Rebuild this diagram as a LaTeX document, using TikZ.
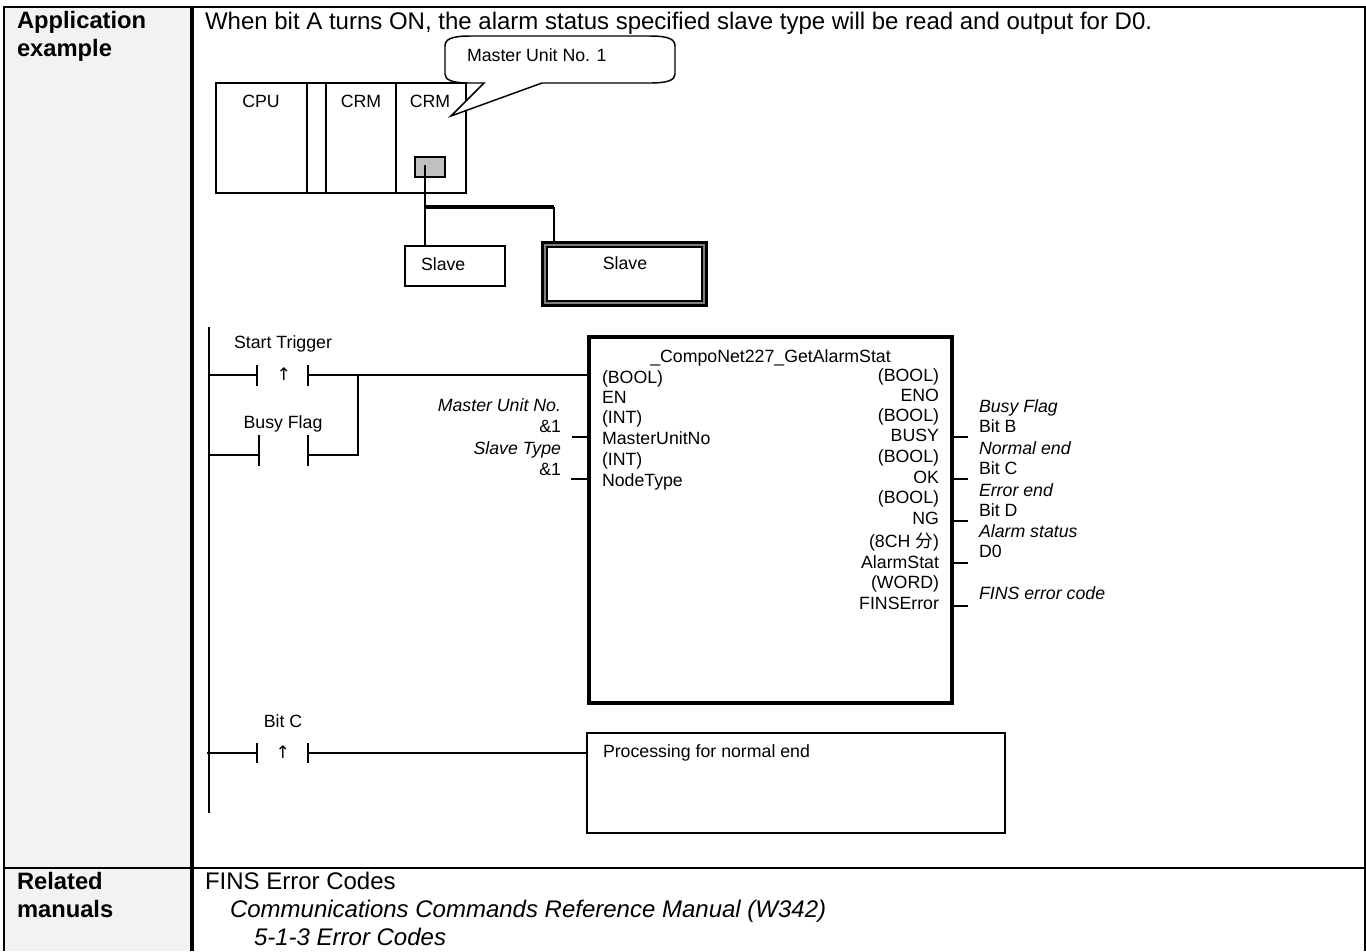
\documentclass[tikz,border=0pt]{standalone}
\usepackage{fontspec}
\setmainfont{Liberation Sans}
\newfontfamily\cjkfont{Noto Sans CJK SC}
\definecolor{headbg}{HTML}{F2F2F2}
\definecolor{portgray}{HTML}{C0C0C0}
\tikzset{
  txt/.style={inner sep=0pt,outer sep=0pt,text height=10.4pt,text depth=1.7pt,font=\fontsize{13.3}{13.3}\selectfont},
  big/.style={inner sep=0pt,outer sep=0pt,anchor=west,text height=13.8pt,text depth=2.6pt,font=\fontsize{18}{18}\selectfont},
  bigb/.style={big,font=\fontsize{17.8}{17.8}\selectfont\bfseries},
  bigi/.style={big,font=\fontsize{18}{18}\selectfont\itshape},
  ital/.style={txt,font=\fontsize{13.3}{13.3}\selectfont\itshape},
  upmark/.style={inner sep=0pt,font=\fontsize{13}{13}\selectfont\fontspec{DejaVu Sans}},
  wire/.style={line width=1.1pt},
  thinbox/.style={line width=1.1pt},
  cable/.style={line width=2pt},
}
\begin{document}
\begin{tikzpicture}[x=0.75pt,y=-0.75pt]
\useasboundingbox (0,0) rectangle (1366,951);
\fill[white] (0,0) rectangle (1366,951);
% table
\fill[headbg] (4,8) rectangle (192,951);
\draw[line width=2.2pt] (4,951) -- (4,7) -- (1365,7) -- (1365,951);
\draw[line width=2.5pt] (192,7) -- (192,951);
\draw[line width=2.2pt] (4,868) -- (1365,868);
% headings
\node[bigb] (h1) at (17,21) {Application};
\node[bigb] (h2) at (17,49) {example};
\node[bigb] (h3) at (17,882) {Related};
\node[bigb] (h4) at (17,910) {manuals};
\node[big] (intro) at (205,22) {When bit A turns ON, the alarm status specified slave type will be read and output for D0.};
\node[big] (r1) at (205,882) {FINS Error Codes};
\node[bigi] (r2) at (230,910) {Communications Commands Reference Manual (W342)};
\node[bigi] (r3) at (254,938) {5-1-3 Error Codes};
% PLC rack
\draw[thinbox] (216,83) rectangle (466,193);
\draw[thinbox] (307,83) -- (307,193);
\draw[thinbox] (326,83) -- (326,193);
\draw[thinbox] (396,83) -- (396,193);
\node[txt] (cpu) at (261,102) {CPU};
\node[txt] (crm1) at (361,102) {CRM};
\node[txt] (crm2) at (430,102) {CRM};
% callout
\draw[thinbox,fill=white] (484,83) -- (451,116) -- (542,83) -- (650,83)
  .. controls (668,83) and (675,80) .. (675,74) -- (675,46)
  .. controls (675,39) and (668,36) .. (650,36) -- (470,36)
  .. controls (452,36) and (445,39) .. (445,46) -- (445,74)
  .. controls (445,80) and (452,83) .. (470,83) -- cycle;
\node[txt,anchor=west] (cal) at (467,56) {Master Unit No. 1};
% port and cables
\node[draw,fill=portgray,line width=1.3pt,minimum width=22.5pt,minimum height=15pt,inner sep=0pt] (port) at (430,167) {};
\coordinate (portpin) at (425,165);
\node[draw,thinbox,minimum width=75pt,minimum height=30pt,inner sep=0pt] (s1box) at (455,266) {};
\node[txt,anchor=west] (s1) at (421,265) {Slave};
\draw[line width=2.2pt] (542.5,242.5) rectangle (706.5,305.5);
\draw[line width=1.1pt,color=gray] (545,245) rectangle (704,303);
\draw[line width=1.5pt] (547,247) rectangle (702,301);
\node[txt] (s2) at (625,264) {Slave};
\coordinate (s1top) at (425,246);
\coordinate (tee) at (425,207);
\coordinate (cor) at (554,207);
\coordinate (s2top) at (554,243);
\draw[cable] (portpin) -- (s1top);
\draw[line width=2.3pt] (tee) -- (cor);
\draw[line width=1.7pt] (cor) -- (s2top);
% rail
\coordinate (railt) at (209,327);
\coordinate (railb) at (209,813);
\draw[wire] (railt) -- (railb);
% Start trigger contact
\node[txt] (st) at (283,343) {Start Trigger};
\coordinate (a1) at (209,375);
\coordinate (a2) at (257,375);
\coordinate (a3) at (308,375);
\coordinate (a4) at (358,375);
\coordinate (a5) at (589,375);
\draw[wire] (a1) -- (a2);
\draw[wire] (a3) -- (a5);
\draw[wire] (257,365) -- (257,386);
\draw[wire] (308,365) -- (308,386);
\node[upmark] (up1) at (284,374) {↑};
% Busy
\node[txt] (bf) at (283,423) {Busy Flag};
\coordinate (b1) at (209,455);
\coordinate (b2) at (259,455);
\coordinate (b3) at (308,455);
\coordinate (b4) at (358,455);
\draw[wire] (b1) -- (b2);
\draw[wire] (259,435) -- (259,466);
\draw[wire] (308,435) -- (308,466);
\draw[wire] (b3) -- (b4) -- (a4);
% Left inputs
\node[ital,anchor=east] (l1) at (561,406) {Master Unit No.};
\node[txt,anchor=east] (l2) at (561,427) {\&1};
\node[ital,anchor=east] (l3) at (561,449) {Slave Type};
\node[txt,anchor=east] (l4) at (561,470) {\&1};
% FB block
\draw[line width=2.5pt] (589,337) rectangle (952,703);
\draw[wire] (572,437) -- (589,437);
\draw[wire] (571,479) -- (589,479);
\node[txt] (fbtitle) at (770.5,357) {\_CompoNet227\_GetAlarmStat};
\node[txt,anchor=west] (i1) at (602,378) {(BOOL)};
\node[txt,anchor=west] (i2) at (602,398) {EN};
\node[txt,anchor=west] (i3) at (602,418) {(INT)};
\node[txt,anchor=west] (i4) at (602,439) {MasterUnitNo};
\node[txt,anchor=west] (i5) at (602,460) {(INT)};
\node[txt,anchor=west] (i6) at (602,481) {NodeType};
\node[txt,anchor=east] (o1) at (939,376) {(BOOL)};
\node[txt,anchor=east] (o2) at (939,396) {ENO};
\node[txt,anchor=east] (o3) at (939,416) {(BOOL)};
\node[txt,anchor=east] (o4) at (939,436) {BUSY};
\node[txt,anchor=east] (o5) at (939,457) {(BOOL)};
\node[txt,anchor=east] (o6) at (939,478) {OK};
\node[txt,anchor=east] (o7) at (939,498) {(BOOL)};
\node[txt,anchor=east] (o8) at (939,519) {NG};
\node[txt,anchor=east] (o9) at (939,542) {(8CH {\cjkfont 分})};
\node[txt,anchor=east] (o10) at (939,563) {AlarmStat};
\node[txt,anchor=east] (o11) at (939,583) {(WORD)};
\node[txt,anchor=east] (o12) at (939,604) {FINSError};
% right pins
\draw[wire] (952,437) -- (968,437);
\draw[wire] (952,479) -- (968,479);
\draw[wire] (952,521) -- (968,521);
\draw[wire] (952,563) -- (968,563);
\draw[wire] (952,606) -- (968,606);
\node[ital,anchor=west] (v1) at (979,407) {Busy Flag};
\node[txt,anchor=west] (v2) at (979,427) {Bit B};
\node[ital,anchor=west] (v3) at (979,449) {Normal end};
\node[txt,anchor=west] (v4) at (979,469) {Bit C};
\node[ital,anchor=west] (v5) at (979,491) {Error end};
\node[txt,anchor=west] (v6) at (979,511) {Bit D};
\node[ital,anchor=west] (v7) at (979,532) {Alarm status};
\node[txt,anchor=west] (v8) at (979,552) {D0};
\node[ital,anchor=west] (v9) at (979,594) {FINS error code};
% Bit C rung
\node[txt] (bc) at (283,722) {Bit C};
\coordinate (c1) at (207,753);
\coordinate (c2) at (257,753);
\coordinate (c3) at (308,753);
\draw[wire] (c1) -- (c2);
\draw[wire] (257,743) -- (257,763);
\draw[wire] (308,743) -- (308,763);
\node[upmark] (up2) at (283,752) {↑};
\draw[thinbox] (587,733) rectangle (1005,833);
\coordinate (c4) at (587,753);
\draw[wire] (c3) -- (c4);
\node[txt,anchor=west] (proc) at (603,752) {Processing for normal end};
\end{tikzpicture}
\end{document}
